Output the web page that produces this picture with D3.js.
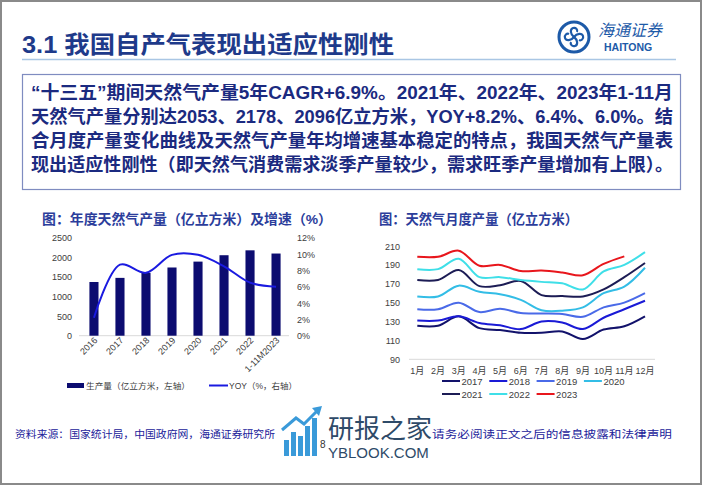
<!DOCTYPE html>
<html lang="zh">
<head>
<meta charset="utf-8">
<title>3.1 我国自产气表现出适应性刚性</title>
<script src="https://d3js.org/d3.v7.min.js"></script>
<style>
  body { margin: 0; background: #fff; }
  svg { display: block; }
  text { font-family: "Liberation Sans", Arial, "Noto Sans CJK SC", sans-serif; }
</style>
</head>
<body>
<svg id="slide" width="702" height="485"></svg>
<script>
// ---- data ----
var years = ["2016", "2017", "2018", "2019", "2020", "2021", "2022", "1-11M2023"];
var production = [1370, 1475, 1605, 1740, 1890, 2053, 2178, 2096];   // 亿立方米
var yoy = [2.2, 8.7, 7.7, 9.9, 9.9, 8.5, 6.5, 6.0];                   // %
var leftTicks = [0, 500, 1000, 1500, 2000, 2500];
var rightTicks = [0, 2, 4, 6, 8, 10, 12];

var months = ["1月", "2月", "3月", "4月", "5月", "6月", "7月", "8月", "9月", "10月", "11月", "12月"];
var m2017 = [125.5, 125.5, 135.5, 123, 121, 118, 118, 119.5, 111.5, 121.5, 125, 135.5];
var m2018 = [131, 131, 135.5, 128.5, 126, 122, 130, 129, 122, 134, 143, 152];
var m2019 = [143, 143, 150, 140, 143.5, 139, 138.5, 138, 135, 145, 150, 160];
var m2020 = [156.5, 156.5, 168, 161.5, 159, 153, 142, 141.5, 145, 160, 167, 187];
var m2021 = [174, 174, 184.5, 167.5, 168.5, 173, 158, 157, 156.5, 164, 177, 192];
var m2022 = [185.5, 185.5, 196.5, 177, 177, 174, 172, 170.5, 164, 183, 190, 203.5];
var m2023 = [198.5, 198.5, 205, 189, 190, 183.5, 184, 182, 179, 191, 199];
var monthTicks = [90, 110, 130, 150, 170, 190, 210];

var seriesNames = ["2017", "2018", "2019", "2020", "2021", "2022", "2023"];
var seriesColors = ["#12126b", "#1a1ad6", "#4a6ae8", "#33bde6", "#1c1c55", "#3fdfe8", "#e8161c"];

var bodyLines = [
  "“十三五”期间天然气产量5年CAGR+6.9%。2021年、2022年、2023年1-11月",
  "天然气产量分别达2053、2178、2096亿立方米，YOY+8.2%、6.4%、6.0%。结",
  "合月度产量变化曲线及天然气产量年均增速基本稳定的特点，我国天然气产量表",
  "现出适应性刚性（即天然气消费需求淡季产量较少，需求旺季产量增加有上限）。"
];

var svg = d3.select("#slide");
var cjk = "\"Noto Sans CJK SC\", sans-serif";

// page frame
svg.append("rect").attr("x", 1).attr("y", 1).attr("width", 700).attr("height", 483)
  .attr("fill", "none").attr("stroke", "#8a8a8a").attr("stroke-width", 2);

// header
svg.append("text").attr("x", 22).attr("y", 53)
  .attr("font-size", 24).attr("font-weight", "bold").attr("fill", "#1e3a8a")
  .attr("textLength", 372).attr("lengthAdjust", "spacingAndGlyphs")
  .text("3.1 我国自产气表现出适应性刚性");
svg.append("line").attr("x1", 22).attr("x2", 676).attr("y1", 59.5).attr("y2", 59.5)
  .attr("stroke", "#a9c6e4").attr("stroke-width", 1.5);

// haitong logo
var logo = svg.append("g").attr("transform", "translate(574,37)");
logo.append("circle").attr("r", 15).attr("fill", "none").attr("stroke", "#1d5aa8").attr("stroke-width", 3);
[0, 90, 180, 270].forEach(function (a) {
  logo.append("path").attr("transform", "rotate(" + a + ")")
    .attr("d", "M0,0 C3,-4 8,-4 9,-1 C10,2 7,4 5,3")
    .attr("fill", "none").attr("stroke", "#1d5aa8").attr("stroke-width", 2.2);
});
svg.append("text").attr("x", 598).attr("y", 36).attr("font-family", cjk)
  .attr("font-size", 16).attr("font-style", "italic").attr("fill", "#1d5aa8").text("海通证券");
svg.append("text").attr("x", 604).attr("y", 51).attr("font-size", 10.5)
  .attr("font-weight", "bold").attr("fill", "#1d5aa8").text("HAITONG");

// text box
svg.append("rect").attr("x", 22.5).attr("y", 74.5).attr("width", 658).attr("height", 115)
  .attr("fill", "#fff").attr("stroke", "#7f8cc0").attr("stroke-width", 1.2);
svg.selectAll(".body").data(bodyLines).enter().append("text")
  .attr("x", 31).attr("y", function (d, i) { return 99 + i * 24; })
  .attr("font-size", 18).attr("font-weight", "bold").attr("fill", "#1b2a80")
  .attr("textLength", 642).attr("lengthAdjust", "spacingAndGlyphs")
  .text(function (d) { return d; });

// ================= left chart =================
svg.append("text").attr("x", 42).attr("y", 224).attr("font-family", cjk)
  .attr("font-size", 13.5).attr("font-weight", "bold").attr("fill", "#2b3d9b")
  .attr("textLength", 290).attr("lengthAdjust", "spacingAndGlyphs")
  .text("图：年度天然气产量（亿立方米）及增速（%）");

var x = d3.scaleBand().domain(years).range([79, 291]).paddingInner(0.65).paddingOuter(0.4);
var yL = d3.scaleLinear().domain([0, 2500]).range([335.7, 237.7]);
var yR = d3.scaleLinear().domain([0, 12]).range([335.7, 237.7]);

svg.append("line").attr("x1", 79).attr("x2", 289).attr("y1", 335.7).attr("y2", 335.7)
  .attr("stroke", "#d9d9d9").attr("stroke-width", 1);

svg.selectAll(".lt").data(leftTicks).enter().append("text")
  .attr("x", 72).attr("y", function (d) { return yL(d) + 3.5; })
  .attr("text-anchor", "end").attr("font-size", 9).attr("fill", "#404040")
  .text(function (d) { return d; });
svg.selectAll(".rt").data(rightTicks).enter().append("text")
  .attr("x", 297).attr("y", function (d) { return yR(d) + 3.5; })
  .attr("font-size", 9).attr("fill", "#404040")
  .text(function (d) { return d + "%"; });

svg.selectAll(".bar").data(production).enter().append("rect")
  .attr("x", function (d, i) { return x(years[i]); })
  .attr("y", function (d) { return yL(d); })
  .attr("width", x.bandwidth())
  .attr("height", function (d) { return yL(0) - yL(d); })
  .attr("fill", "#0c0c70");

var yoyLine = d3.line()
  .x(function (d, i) { return x(years[i]) + x.bandwidth() / 2; })
  .y(function (d) { return yR(d); })
  .curve(d3.curveCatmullRom.alpha(0.5));
svg.append("path").datum(yoy).attr("d", yoyLine)
  .attr("fill", "none").attr("stroke", "#1a1ae0").attr("stroke-width", 2);

svg.selectAll(".xt").data(years).enter().append("text")
  .attr("transform", function (d) {
    return "translate(" + (x(d) + x.bandwidth() / 2 + 4) + ",341) rotate(-45)";
  })
  .attr("text-anchor", "end").attr("font-size", 9).attr("fill", "#404040")
  .text(function (d) { return d; });

// legend left
svg.append("rect").attr("x", 67).attr("y", 383).attr("width", 17).attr("height", 5).attr("fill", "#0c0c70");
svg.append("text").attr("x", 86).attr("y", 389).attr("font-family", cjk)
  .attr("font-size", 8.5).attr("fill", "#404040")
  .attr("textLength", 104).attr("lengthAdjust", "spacingAndGlyphs")
  .text("生产量（亿立方米，左轴）");
svg.append("line").attr("x1", 209).attr("x2", 228).attr("y1", 385.5).attr("y2", 385.5)
  .attr("stroke", "#1a1ae0").attr("stroke-width", 2);
svg.append("text").attr("x", 229).attr("y", 389).attr("font-size", 8.5)
  .attr("fill", "#404040").text("YOY（%，右轴）");

// ================= right chart =================
svg.append("text").attr("x", 379).attr("y", 224).attr("font-family", cjk)
  .attr("font-size", 13.5).attr("font-weight", "bold").attr("fill", "#2b3d9b")
  .attr("textLength", 199).attr("lengthAdjust", "spacingAndGlyphs")
  .text("图：天然气月度产量（亿立方米）");

var xm = d3.scalePoint().domain(months).range([417.3, 645]);
var ym = d3.scaleLinear().domain([90, 210]).range([359.3, 246]);

svg.append("line").attr("x1", 409).attr("x2", 655).attr("y1", 359.3).attr("y2", 359.3)
  .attr("stroke", "#d9d9d9").attr("stroke-width", 1);

svg.selectAll(".mt").data(monthTicks).enter().append("text")
  .attr("x", 400).attr("y", function (d) { return ym(d) + 3.5; })
  .attr("text-anchor", "end").attr("font-size", 9).attr("fill", "#404040")
  .text(function (d) { return d; });
svg.selectAll(".mx").data(months).enter().append("text")
  .attr("x", function (d) { return xm(d); }).attr("y", 374)
  .attr("text-anchor", "middle").attr("font-size", 9).attr("fill", "#404040")
  .text(function (d) { return d; });

var monthly = [m2017, m2018, m2019, m2020, m2021, m2022, m2023];
var mLine = d3.line()
  .x(function (d, i) { return xm(months[i]); })
  .y(function (d) { return ym(d); })
  .curve(d3.curveCatmullRom.alpha(0.5));
svg.selectAll(".ml").data(monthly).enter().append("path")
  .attr("d", mLine).attr("fill", "none")
  .attr("stroke", function (d, i) { return seriesColors[i]; })
  .attr("stroke-width", 2);

// legend right
var lg = svg.selectAll(".lg").data(seriesNames).enter().append("g")
  .attr("transform", function (d, i) {
    return "translate(" + (442 + (i % 4) * 47.3) + "," + (381 + Math.floor(i / 4) * 13) + ")";
  });
lg.append("line").attr("x1", 0).attr("x2", 18).attr("y1", 0).attr("y2", 0)
  .attr("stroke", function (d, i) { return seriesColors[i]; }).attr("stroke-width", 2);
lg.append("text").attr("x", 19.5).attr("y", 3.5).attr("font-size", 9.5).attr("fill", "#404040")
  .text(function (d) { return d; });

// ================= footer =================
svg.append("text").attr("x", 15).attr("y", 438).attr("font-family", cjk)
  .attr("font-size", 10).attr("fill", "#22229a")
  .attr("textLength", 260).attr("lengthAdjust", "spacingAndGlyphs")
  .text("资料来源：国家统计局，中国政府网，海通证券研究所");
svg.append("text").attr("x", 432).attr("y", 438).attr("font-family", cjk)
  .attr("font-size", 10.5).attr("fill", "#22229a")
  .attr("textLength", 240).attr("lengthAdjust", "spacingAndGlyphs")
  .text("请务必阅读正文之后的信息披露和法律声明");

// watermark
var wm = svg.append("g");
[[284, 440, 5, 16], [291, 432, 5, 24], [298, 436, 5, 20], [305, 426, 5, 30], [312, 418, 5, 38]].forEach(function (b) {
  wm.append("rect").attr("x", b[0]).attr("y", b[1]).attr("width", b[2]).attr("height", b[3]).attr("fill", "#3a9ad9");
});
wm.append("path").attr("d", "M282,430 L296,418 L304,424 L318,410")
  .attr("fill", "none").attr("stroke", "#3a9ad9").attr("stroke-width", 3);
wm.append("path").attr("d", "M312,408 L322,406 L319,416 Z").attr("fill", "#3a9ad9");
wm.append("text").attr("x", 328).attr("y", 438).attr("font-family", cjk)
  .attr("font-size", 26).attr("fill", "#2e4a68").text("研报之家");
wm.append("text").attr("x", 328).attr("y", 458).attr("font-family", "\"Open Sans\", sans-serif")
  .attr("font-size", 15).attr("fill", "#2e4a68").text("YBLOOK.COM");
svg.append("text").attr("x", 320).attr("y", 448).attr("font-size", 10).attr("fill", "#333").text("8");
</script>
</body>
</html>
